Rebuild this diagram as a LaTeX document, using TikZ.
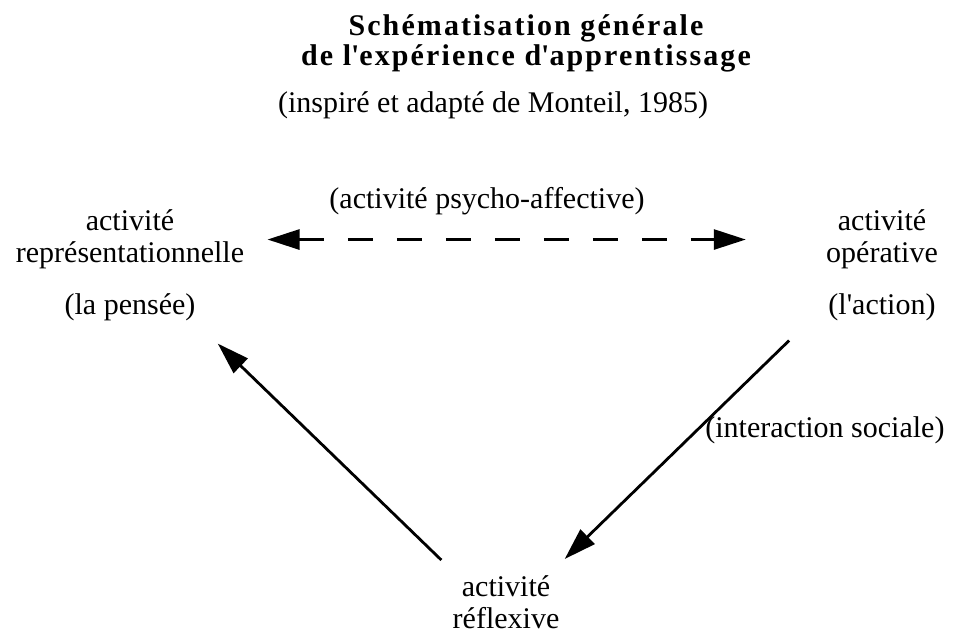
\documentclass[tikz,border=0pt]{standalone}
\usepackage{fontspec}
\setmainfont{Liberation Serif}
\newfontfamily\titlefont[LetterSpace=7]{Liberation Serif}
\usetikzlibrary{arrows.meta, positioning}

\begin{document}
\begin{tikzpicture}[x=0.5pt, y=-0.5pt]

\tikzstyle{texte} = [inner sep=0pt, font=\fontsize{15}{16}\selectfont, align=center]
\tikzstyle{titre} = [inner sep=0pt, font=\titlefont\bfseries\fontsize{15}{15}\selectfont, align=center]
\tikzstyle{arrow} = [line width=1.4pt, -{Triangle[length=16pt, width=10pt]}]
\tikzstyle{double} = [line width=1.4pt, {Triangle[length=16pt, width=10pt]}-{Triangle[length=16pt, width=10pt]}, dash pattern=on 12.5pt off 12pt]

\useasboundingbox (0,0) rectangle (954,632);

\node (titre) [titre, anchor=north] at (526,14.5) {Schématisation générale\\de l\textquotesingle expérience d\textquotesingle apprentissage};
\node (source) [texte, anchor=base] at (493,112) {(inspiré et adapté de Monteil, 1985)};

\node (repr) [texte, anchor=north] at (130,209.5) {activité\\représentationnelle};
\node (pensee) [texte, below=12pt of repr] {(la pensée)};
\node (oper) [texte, anchor=north] at (882,209.5) {activité\\opérative};
\node (action) [texte, below=12pt of oper] {(l\textquotesingle action)};
\node (refl) [texte, anchor=north] at (506,575) {activité\\réflexive};

\node (psycho) [texte, anchor=base] at (487,208) {(activité psycho-affective)};
\node (social) [texte, anchor=base west] at (705,437) {(interaction sociale)};

\draw [double, shorten <=11.5pt, shorten >=40pt] (repr.east) -- (oper.west);
\draw [arrow] ([shift={(-11,-15)}]refl.north west) -- ([shift={(22,22)}]pensee.south east);
\draw [arrow] ([shift={(-39,19)}]action.south west) -- ([shift={(5,-16)}]refl.north east);
\end{tikzpicture}
\end{document}
